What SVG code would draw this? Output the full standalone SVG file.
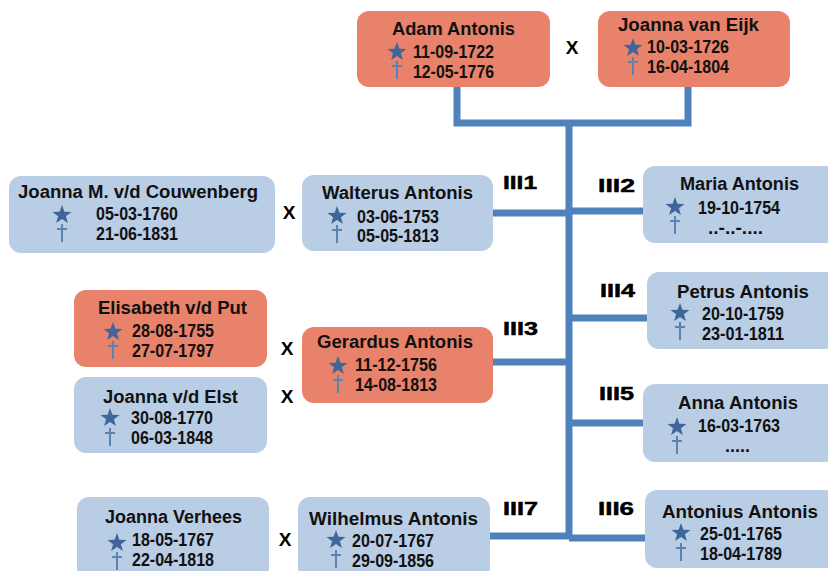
<svg xmlns="http://www.w3.org/2000/svg" xmlns:xlink="http://www.w3.org/1999/xlink" width="828" height="571" viewBox="0 0 828 571">
<style>
.bx{stroke:none}
.sal{fill:#E8826A}
.blu{fill:#B9CDE5}
.nm{font-family:"Liberation Sans",Arial,sans-serif;font-weight:bold;font-size:18px;fill:#111}
.dt{font-family:"Liberation Sans",Arial,sans-serif;font-weight:bold;font-size:18px;fill:#111}
.lb{font-family:"Liberation Sans",Arial,sans-serif;font-weight:bold;font-size:19px;fill:#000;stroke:#000;stroke-width:0.5}
.x{font-family:"Liberation Sans",Arial,sans-serif;font-weight:bold;font-size:19px;fill:#000;text-anchor:middle}
.con{stroke:#4F81BD;stroke-width:7;fill:none;stroke-linecap:butt}
.st{fill:#3E6699}
.cr{stroke:#5A82B3;stroke-width:2;fill:none}
</style>
<defs>
<polygon id="star" class="st" points="0,-10 2.4,-3.3 9.5,-3.1 3.9,1.3 5.9,8.1 0,4.1 -5.9,8.1 -3.9,1.3 -9.5,-3.1 -2.4,-3.3"/>
<path id="cross" class="cr" d="M0,0 V18 M-5,5 H5"/>
</defs>
<rect width="828" height="571" fill="#ffffff"/>
<g id="connectors">
<path class="con" d="M457,87 V123 M688,87 V123 M453.5,123 H691.5 M569,123 V539"/>
<path class="con" d="M493,213 H569 M569,211 H643 M569,318 H647 M493,362 H569 M569,423 H643 M490,536 H569 M569,538 H645"/>
</g>
<g id="labels">
<text class="lb" x="503" y="189" textLength="34" lengthAdjust="spacingAndGlyphs">III1</text>
<text class="lb" x="598" y="192" textLength="37" lengthAdjust="spacingAndGlyphs">III2</text>
<text class="lb" x="503" y="335" textLength="35" lengthAdjust="spacingAndGlyphs">III3</text>
<text class="lb" x="600" y="297" textLength="35" lengthAdjust="spacingAndGlyphs">III4</text>
<text class="lb" x="599" y="400" textLength="35" lengthAdjust="spacingAndGlyphs">III5</text>
<text class="lb" x="598" y="515" textLength="36" lengthAdjust="spacingAndGlyphs">III6</text>
<text class="lb" x="503" y="515" textLength="35" lengthAdjust="spacingAndGlyphs">III7</text>
<text class="x" x="572" y="54">X</text>
<text class="x" x="289" y="219">X</text>
<text class="x" x="287" y="355">X</text>
<text class="x" x="287" y="403">X</text>
<text class="x" x="285" y="546">X</text>
</g>
<g id="adam">
<rect class="bx sal" x="357" y="11" width="193" height="76" rx="12"/>
<text class="nm" x="392" y="35" textLength="123" lengthAdjust="spacingAndGlyphs">Adam Antonis</text>
<use xlink:href="#star" x="397" y="52"/><use xlink:href="#cross" x="397" y="61"/>
<text class="dt" x="413" y="58" textLength="81" lengthAdjust="spacingAndGlyphs">11-09-1722</text>
<text class="dt" x="413" y="78" textLength="81" lengthAdjust="spacingAndGlyphs">12-05-1776</text>
</g>
<g id="joanna-van-eijk">
<rect class="bx sal" x="598" y="11" width="192" height="76" rx="12"/>
<text class="nm" x="618" y="31" textLength="141" lengthAdjust="spacingAndGlyphs">Joanna van Eijk</text>
<use xlink:href="#star" x="633" y="48"/><use xlink:href="#cross" x="633" y="57"/>
<text class="dt" x="647" y="53" textLength="82" lengthAdjust="spacingAndGlyphs">10-03-1726</text>
<text class="dt" x="647" y="73" textLength="82" lengthAdjust="spacingAndGlyphs">16-04-1804</text>
</g>
<g id="couwenberg">
<rect class="bx blu" x="9" y="176" width="266" height="77" rx="12"/>
<text class="nm" x="18" y="198" textLength="240" lengthAdjust="spacingAndGlyphs">Joanna M. v/d Couwenberg</text>
<use xlink:href="#star" x="62" y="215"/><use xlink:href="#cross" x="62" y="224"/>
<text class="dt" x="96" y="220" textLength="82" lengthAdjust="spacingAndGlyphs">05-03-1760</text>
<text class="dt" x="96" y="240" textLength="82" lengthAdjust="spacingAndGlyphs">21-06-1831</text>
</g>
<g id="walterus">
<rect class="bx blu" x="302" y="175" width="191" height="76" rx="12"/>
<text class="nm" x="322" y="199" textLength="151" lengthAdjust="spacingAndGlyphs">Walterus Antonis</text>
<use xlink:href="#star" x="337" y="216"/><use xlink:href="#cross" x="337" y="225"/>
<text class="dt" x="357" y="223" textLength="82" lengthAdjust="spacingAndGlyphs">03-06-1753</text>
<text class="dt" x="357" y="242" textLength="82" lengthAdjust="spacingAndGlyphs">05-05-1813</text>
</g>
<g id="maria">
<rect class="bx blu" x="643" y="166" width="195" height="77" rx="12"/>
<text class="nm" x="680" y="190" textLength="119" lengthAdjust="spacingAndGlyphs">Maria Antonis</text>
<use xlink:href="#star" x="675" y="207"/><use xlink:href="#cross" x="675" y="216"/>
<text class="dt" x="698" y="214" textLength="82" lengthAdjust="spacingAndGlyphs">19-10-1754</text>
<text class="dt" x="708" y="234" textLength="55" lengthAdjust="spacingAndGlyphs">..-..-....</text>
</g>
<g id="petrus">
<rect class="bx blu" x="647" y="272" width="191" height="77" rx="12"/>
<text class="nm" x="677" y="298" textLength="132" lengthAdjust="spacingAndGlyphs">Petrus Antonis</text>
<use xlink:href="#star" x="680" y="313"/><use xlink:href="#cross" x="680" y="322"/>
<text class="dt" x="702" y="320" textLength="82" lengthAdjust="spacingAndGlyphs">20-10-1759</text>
<text class="dt" x="702" y="340" textLength="82" lengthAdjust="spacingAndGlyphs">23-01-1811</text>
</g>
<g id="anna">
<rect class="bx blu" x="643" y="384" width="195" height="78" rx="12"/>
<text class="nm" x="678" y="409" textLength="120" lengthAdjust="spacingAndGlyphs">Anna Antonis</text>
<use xlink:href="#star" x="677" y="427"/><use xlink:href="#cross" x="677" y="436"/>
<text class="dt" x="698" y="432" textLength="82" lengthAdjust="spacingAndGlyphs">16-03-1763</text>
<text class="dt" x="725" y="452" textLength="25" lengthAdjust="spacingAndGlyphs">.....</text>
</g>
<g id="elisabeth">
<rect class="bx sal" x="74" y="290" width="193" height="77" rx="12"/>
<text class="nm" x="98" y="314" textLength="149" lengthAdjust="spacingAndGlyphs">Elisabeth v/d Put</text>
<use xlink:href="#star" x="113" y="332"/><use xlink:href="#cross" x="113" y="341"/>
<text class="dt" x="132" y="337" textLength="82" lengthAdjust="spacingAndGlyphs">28-08-1755</text>
<text class="dt" x="132" y="357" textLength="82" lengthAdjust="spacingAndGlyphs">27-07-1797</text>
</g>
<g id="elst">
<rect class="bx blu" x="74" y="377" width="193" height="76" rx="12"/>
<text class="nm" x="103" y="403" textLength="135" lengthAdjust="spacingAndGlyphs">Joanna v/d Elst</text>
<use xlink:href="#star" x="110" y="418"/><use xlink:href="#cross" x="110" y="428"/>
<text class="dt" x="131" y="424" textLength="82" lengthAdjust="spacingAndGlyphs">30-08-1770</text>
<text class="dt" x="131" y="444" textLength="82" lengthAdjust="spacingAndGlyphs">06-03-1848</text>
</g>
<g id="gerardus">
<rect class="bx sal" x="302" y="327" width="191" height="76" rx="12"/>
<text class="nm" x="317" y="348" textLength="156" lengthAdjust="spacingAndGlyphs">Gerardus Antonis</text>
<use xlink:href="#star" x="338" y="366"/><use xlink:href="#cross" x="338" y="375"/>
<text class="dt" x="355" y="371" textLength="82" lengthAdjust="spacingAndGlyphs">11-12-1756</text>
<text class="dt" x="355" y="391" textLength="82" lengthAdjust="spacingAndGlyphs">14-08-1813</text>
</g>
<g id="verhees">
<rect class="bx blu" x="77" y="497" width="192" height="83" rx="12"/>
<text class="nm" x="105" y="523" textLength="137" lengthAdjust="spacingAndGlyphs">Joanna Verhees</text>
<use xlink:href="#star" x="117" y="543"/><use xlink:href="#cross" x="117" y="552"/>
<text class="dt" x="132" y="546" textLength="82" lengthAdjust="spacingAndGlyphs">18-05-1767</text>
<text class="dt" x="132" y="566" textLength="82" lengthAdjust="spacingAndGlyphs">22-04-1818</text>
</g>
<g id="wilhelmus">
<rect class="bx blu" x="298" y="497" width="192" height="83" rx="12"/>
<text class="nm" x="309" y="525" textLength="169" lengthAdjust="spacingAndGlyphs">Wilhelmus Antonis</text>
<use xlink:href="#star" x="336" y="540"/><use xlink:href="#cross" x="336" y="550"/>
<text class="dt" x="352" y="547" textLength="82" lengthAdjust="spacingAndGlyphs">20-07-1767</text>
<text class="dt" x="352" y="567" textLength="82" lengthAdjust="spacingAndGlyphs">29-09-1856</text>
</g>
<g id="antonius">
<rect class="bx blu" x="645" y="490" width="193" height="78" rx="12"/>
<text class="nm" x="662" y="518" textLength="156" lengthAdjust="spacingAndGlyphs">Antonius Antonis</text>
<use xlink:href="#star" x="681" y="533"/><use xlink:href="#cross" x="681" y="543"/>
<text class="dt" x="700" y="540" textLength="82" lengthAdjust="spacingAndGlyphs">25-01-1765</text>
<text class="dt" x="700" y="560" textLength="82" lengthAdjust="spacingAndGlyphs">18-04-1789</text>
</g>
</svg>
